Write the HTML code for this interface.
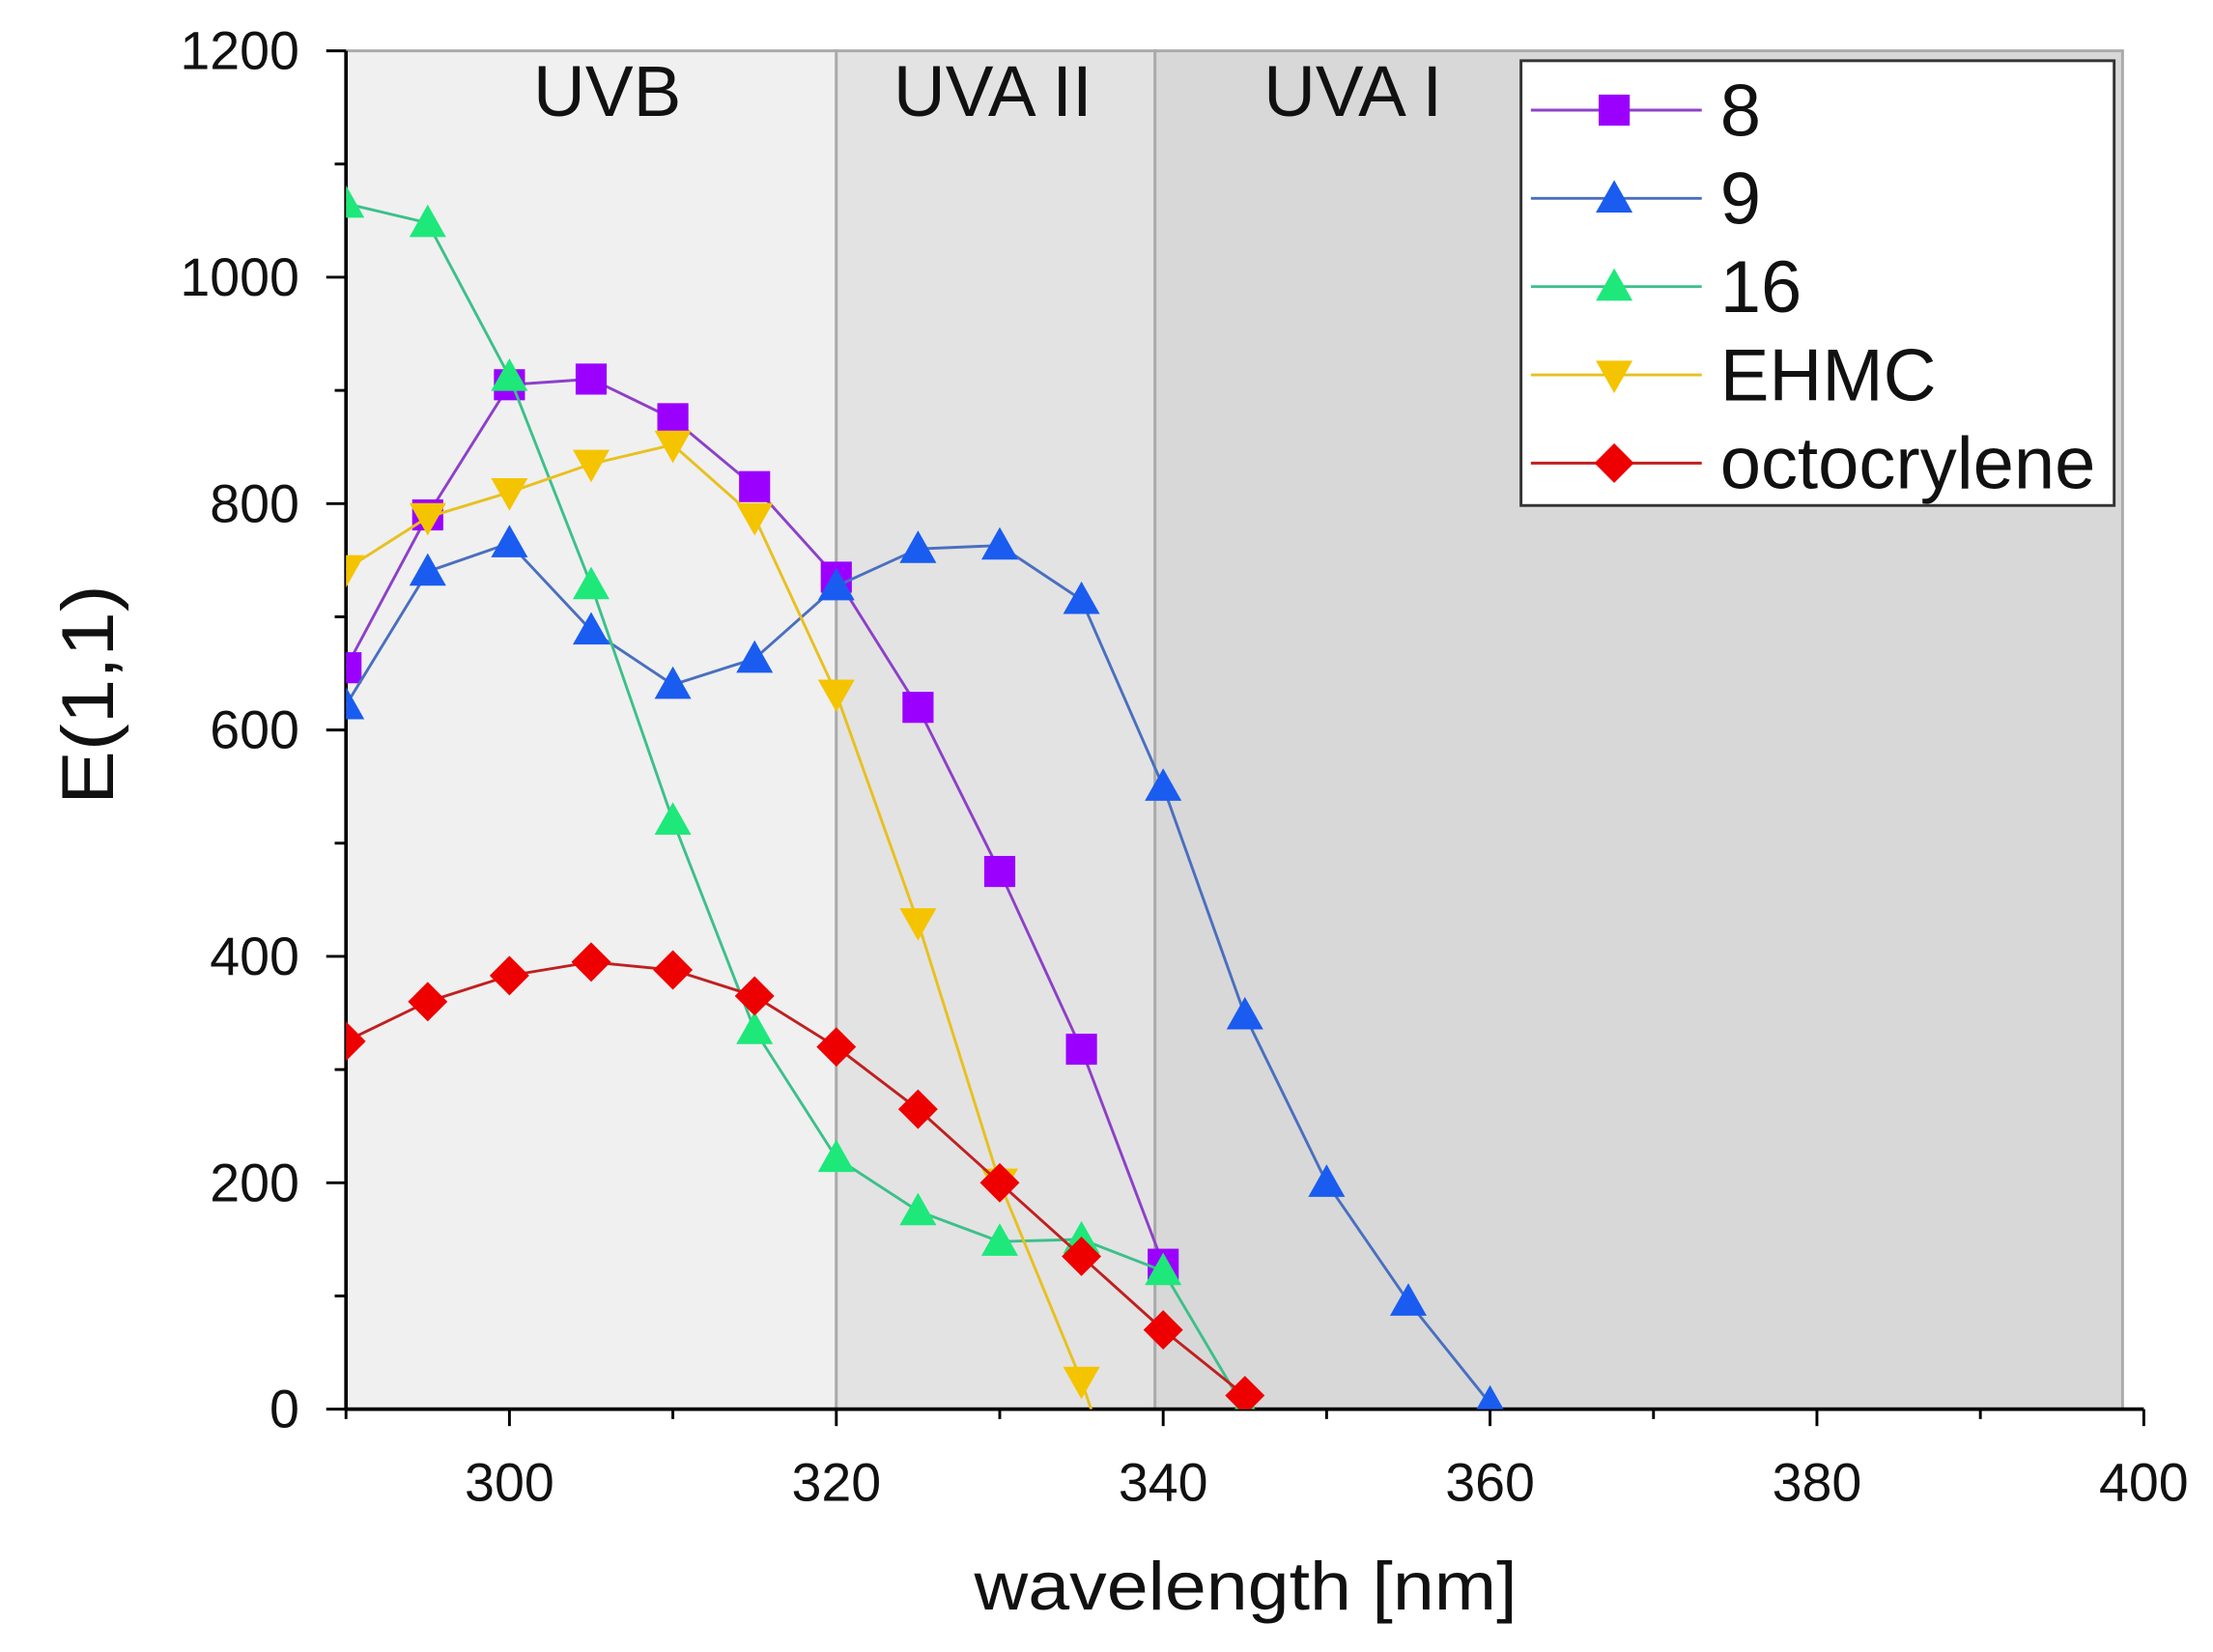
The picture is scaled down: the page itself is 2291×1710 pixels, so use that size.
<!DOCTYPE html>
<html><head><meta charset="utf-8"><style>
html,body{margin:0;padding:0;background:#fff;}
svg{display:block;font-family:"Liberation Sans",sans-serif;}
</style></head><body>
<svg id="chart" width="2291" height="1710" viewBox="0 0 1567 1170" preserveAspectRatio="none" xmlns="http://www.w3.org/2000/svg">
<defs><clipPath id="plotclip"><rect x="245" y="30" width="1280" height="968"/></clipPath></defs>
<g id="bg"></g>
<g id="axes"></g>
<g id="series" clip-path="url(#plotclip)"></g>
<g id="legend"></g>
</svg>
<script>
const wl = [290,295,300,305,310,315,320,325,330,335,340,345,350,355,360];
const s8 = [655,790,905,910,875,815,735,620,475,318,128];
const s9 = [622,740,765,688,640,663,727,760,763,715,550,348,200,95,5];
const s16 = [1065,1048,912,728,520,335,222,175,148,150,122,0];
const sEHMC = [742,788,810,835,852,788,632,430,200,25];
const sOcto = [325,360,383,395,388,365,320,265,200,135,70,12];
const xTicks = [300,320,340,360,380,400];
const yTicks = [0,200,400,600,800,1000,1200];
const regions = [{name:"UVB",a:290,b:320,fill:"#f0f0f0"},{name:"UVA II",a:320,b:339.5,fill:"#e3e3e3"},{name:"UVA I",a:339.5,b:398.7,fill:"#d8d8d8"}];
const NS="http://www.w3.org/2000/svg";
const X = v => 245 + (v-290)*(1518-245)/110;
const Y = v => 998 - v*(998-36)/1200;
function mk(tag, attrs, parent){const e=document.createElementNS(NS,tag);for(const k in attrs)e.setAttribute(k,attrs[k]);parent.appendChild(e);return e;}
const bg=document.getElementById('bg'), ax=document.getElementById('axes'), sg=document.getElementById('series'), lg=document.getElementById('legend');
regions.forEach(r=>{
  const e=mk('rect',{x:X(r.a),y:36,width:X(r.b)-X(r.a),height:998-36,fill:r.fill,stroke:"#aaa","stroke-width":2},bg);
  
  
});
const regionLabelX=[430,703,958];
regions.forEach((r,i)=>{
  const t=mk('text',{x:regionLabelX[i],y:82,"font-size":51,"text-anchor":"middle",fill:"#111"},bg);t.textContent=r.name;
  
  
});
let l=mk('line',{x1:245,y1:998,x2:1518,y2:998,stroke:"#000","stroke-width":2.5},ax);

l=mk('line',{x1:245,y1:36,x2:245,y2:998,stroke:"#000","stroke-width":2.5},ax);

for(let v=290;v<=400;v+=10){const maj=(v%20===0);mk('line',{x1:X(v),y1:998,x2:X(v),y2:998+(maj?12:7),stroke:"#000","stroke-width":2},ax);}
for(let v=0;v<=1200;v+=100){const maj=(v%200===0);mk('line',{x1:245,y1:Y(v),x2:245-(maj?14:8),y2:Y(v),stroke:"#000","stroke-width":2},ax);}
xTicks.forEach(v=>{const t=mk('text',{x:X(v),y:1063,"font-size":38,"text-anchor":"middle",fill:"#111"},ax);t.textContent=v;
  });
yTicks.forEach(v=>{const t=mk('text',{x:212,y:Y(v)+13,"font-size":38,"text-anchor":"end",fill:"#111"},ax);t.textContent=v;
  });
let t=mk('text',{x:0,y:0,"font-size":48,"text-anchor":"middle",fill:"#111",transform:"translate(882,1140) scale(1.1,1)"},ax);t.textContent="wavelength [nm]";

t=mk('text',{x:0,y:0,"font-size":52,"text-anchor":"middle",fill:"#111",transform:"translate(80,492) rotate(-90) scale(1.1,1)"},ax);t.textContent="E(1,1)";

function marker(shape,x,y,color,parent){
  const s=11;
  if(shape==='sq')return mk('rect',{x:x-s,y:y-s,width:2*s,height:2*s,fill:color},parent);
  if(shape==='up')return mk('polygon',{points:`${x},${y-13} ${x-13},${y+10} ${x+13},${y+10}`,fill:color},parent);
  if(shape==='down')return mk('polygon',{points:`${x},${y+13} ${x-13},${y-10} ${x+13},${y-10}`,fill:color},parent);
  return mk('polygon',{points:`${x},${y-14} ${x+14},${y} ${x},${y+14} ${x-14},${y}`,fill:color},parent);
}
const series=[
 {name:"8",vals:s8,color:"#9b00ff",line:"#8d40c8",shape:"sq"},
 {name:"9",vals:s9,color:"#1a5cf0",line:"#4a6fc0",shape:"up"},
 {name:"16",vals:s16,color:"#1ee87a",line:"#3cc08a",shape:"up"},
 {name:"EHMC",vals:sEHMC,color:"#f5c400",line:"#e8c020",shape:"down"},
 {name:"octocrylene",vals:sOcto,color:"#ee0000",line:"#c02020",shape:"dia"}
];
series.forEach(s=>{
  const g=mk('g',{},sg);
  
  
  let pts=s.vals.map((v,i)=>X(wl[i])+','+Y(v));
  if(s.name==="EHMC")pts.push(X(337)+','+Y(-60));
  mk('polyline',{points:pts.join(' '),fill:"none",stroke:s.line,"stroke-width":2},g);
  s.vals.forEach((v,i)=>{const m=marker(s.shape,X(wl[i]),Y(v),s.color,g);
    
    });
});
const box=mk('rect',{x:1077,y:43,width:420,height:315,fill:"#fff",stroke:"#333","stroke-width":2},lg);

series.forEach((s,i)=>{
  const y=78+i*62.5;
  const g=mk('g',{},lg);
  
  
  mk('line',{x1:1084,y1:y,x2:1205,y2:y,stroke:s.line,"stroke-width":2},g);
  marker(s.shape,1143,y,s.color,g);
  const tt=mk('text',{x:1218,y:y+18,"font-size":52,fill:"#111"},g);tt.textContent=s.name;
});
</script>
</body></html>
